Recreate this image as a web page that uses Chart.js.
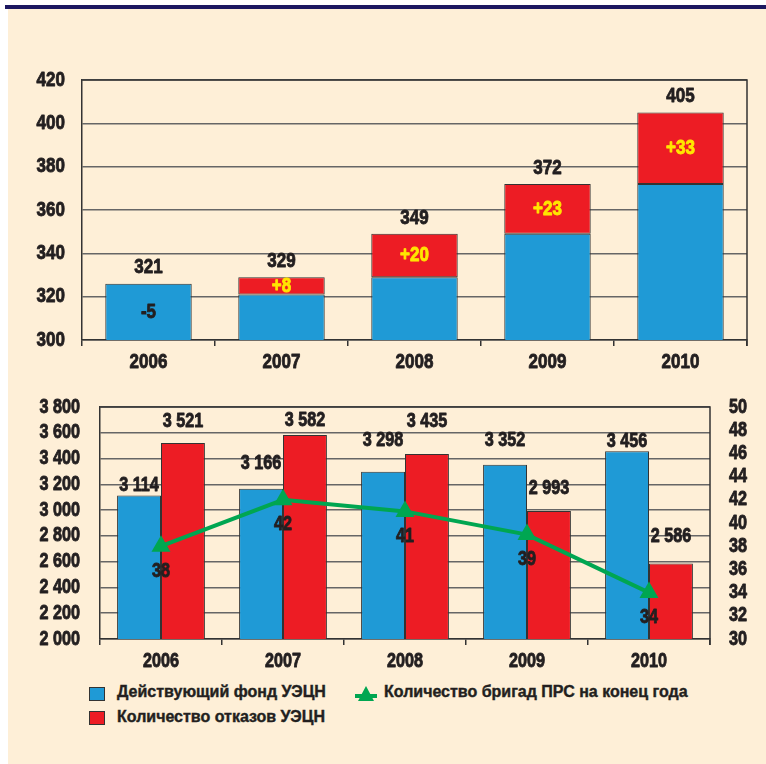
<!DOCTYPE html>
<html>
<head>
<meta charset="utf-8">
<script src="https://cdn.jsdelivr.net/npm/chart.js@4"></script>
<style>
  html, body { margin: 0; padding: 0; background: #fff; }
  #page { position: relative; width: 766px; height: 764px; overflow: hidden; background: #fff; }
  #bar { position: absolute; left: 5px; top: 5px; right: 0; height: 4px; background: #1c1760; }
  #panel { position: absolute; left: 8px; top: 9px; right: 0; bottom: 0; background: #feefd7; }
  .box { position: absolute; left: 0; width: 766px; }
  .sw { position: absolute; width: 14px; height: 12px; border: 1px solid #333; }
  .txt { position: absolute; white-space: nowrap; line-height: 20px; font: bold 16px 'Liberation Sans', Arial, sans-serif; color: #231f20; -webkit-text-stroke: 0.4px #231f20; }
</style>
</head>
<body>
<div id="page">
  <div id="bar"></div>
  <div id="panel"></div>
  <div class="box" style="top:60px;height:320px"><canvas id="topChart" width="766" height="320"></canvas></div>
  <div class="box" style="top:380px;height:300px"><canvas id="bottomChart" width="766" height="300"></canvas></div>
  <span class="sw" style="left:89px;top:687px;background:#1f9ad6"></span>
  <span class="txt" id="lg0" style="left:117px;top:683px"></span>
  <span class="sw" style="left:89px;top:711px;background:#ed1c24"></span>
  <span class="txt" id="lg1" style="left:117px;top:708px"></span>
  <canvas id="lineKey" width="22" height="16" style="position:absolute;left:355px;top:686px"></canvas>
  <span class="txt" id="lg2" style="left:384px;top:683px"></span>
</div>
<script>
// ===== DATA =====
const years = ["2006", "2007", "2008", "2009", "2010"];

// top chart: stock carried from previous year + yearly change
const carried   = [326, 321, 329, 349, 372];
const increase  = [null, 8, 20, 23, 33];
const totals    = [321, 329, 349, 372, 405];
const changes   = ["-5", "+8", "+20", "+23", "+33"];

// bottom chart
const fund      = [3114, 3166, 3298, 3352, 3456];
const failures  = [3521, 3582, 3435, 2993, 2586];
const crews     = [38, 42, 41, 39, 34];

const seriesNames = ["Действующий фонд УЭЦН", "Количество отказов УЭЦН", "Количество бригад ПРС на конец года"];

// ===== STYLE =====
const FONT = "'Liberation Sans', Arial, sans-serif";
const SQUEEZE = 0.81;           // narrow the face to look like the condensed original
const INK = "#231f20";
const BLUE = "#1f9ad6";
const RED = "#ed1c24";
const GREEN = "#00a651";
const GRID = "#666";

// label lifts above bars (as placed in the original layout)
const fundLift = [10, 25, 31, 24, 10];
const failLift = [21, 15, 33, 23, 27];

const fmt = v => String(v).replace(/\B(?=(\d{3})+(?!\d))/g, " ");

function narrowText(ctx, text, x, y, align, size, color) {
  ctx.save();
  ctx.font = "bold " + size + "px " + FONT;
  ctx.fillStyle = color || INK;
  ctx.strokeStyle = color || INK;
  ctx.lineWidth = 0.9;
  ctx.lineJoin = "round";
  ctx.textBaseline = "middle";
  ctx.textAlign = "left";
  const w = ctx.measureText(text).width * SQUEEZE;
  const left = align === "center" ? x - w / 2 : align === "right" ? x - w : x;
  ctx.translate(left, y);
  ctx.scale(SQUEEZE, 1);
  ctx.fillText(text, 0, 0);
  ctx.strokeText(text, 0, 0);
  ctx.restore();
}

// frame on top and right of the plot
const frame = {
  id: "frame",
  beforeDatasetsDraw(chart) {
    const { ctx, chartArea: a } = chart;
    ctx.save();
    ctx.strokeStyle = "#333";
    ctx.lineWidth = 1.5;
    ctx.beginPath();
    ctx.moveTo(a.left, a.top);
    ctx.lineTo(a.right, a.top);
    ctx.lineTo(a.right, a.bottom + 6);
    ctx.stroke();
    ctx.restore();
  }
};

// tick labels in the narrow face, placed by the library's scales
const tickText = {
  id: "tickText",
  afterDraw(chart, args, opts) {
    const ctx = chart.ctx;
    Object.values(chart.scales).forEach(s => {
      const gap = s.options.ticks.padding;
      s.ticks.forEach((t, i) => {
        const px = s.getPixelForTick(i);
        if (s.isHorizontal()) {
          narrowText(ctx, s.getLabelForValue(t.value), px, s.top + gap, "center", opts.size);
        } else if (s.position === "left") {
          narrowText(ctx, fmt(t.value), s.right - gap, px, "right", opts.size);
        } else {
          narrowText(ctx, fmt(t.value), s.left + gap, px, "left", opts.size);
        }
      });
    });
  }
};

// ===== TOP CHART =====
const topLabels = {
  id: "topLabels",
  afterDatasetsDraw(chart) {
    const ctx = chart.ctx;
    const floor = chart.chartArea.bottom;
    const b = chart.getDatasetMeta(0).data;
    const r = chart.getDatasetMeta(1).data;
    years.forEach((y, i) => {
      const hasInc = increase[i] != null;
      const topY = hasInc ? r[i].y : b[i].y;
      narrowText(ctx, String(totals[i]), b[i].x, topY - 16, "center", 21);
      if (hasInc) {
        narrowText(ctx, changes[i], r[i].x, (r[i].y + r[i].base) / 2, "center", 21, "#ffe600");
      } else {
        narrowText(ctx, changes[i], b[i].x, (b[i].y + Math.min(b[i].base, floor)) / 2, "center", 21);
      }
    });
  }
};

new Chart(document.getElementById("topChart"), {
  type: "bar",
  data: {
    labels: years,
    datasets: [
      { data: carried, backgroundColor: BLUE, borderColor: "#333", borderWidth: 1, borderSkipped: false },
      { data: increase, backgroundColor: RED, borderColor: "#333", borderWidth: 1, borderSkipped: false }
    ]
  },
  options: {
    responsive: false,
    devicePixelRatio: 1,
    animation: false,
    layout: { padding: { left: 0, right: 19, top: 20, bottom: 0 } },
    plugins: { legend: { display: false }, tooltip: { enabled: false }, tickText: { size: 21 } },
    datasets: { bar: { categoryPercentage: 1, barPercentage: 0.65 } },
    scales: {
      x: {
        stacked: true,
        afterFit: s => { s.height = 40; },
        grid: { drawOnChartArea: false, drawTicks: true, tickLength: 6, color: "#333", lineWidth: 1.5 },
        border: { color: "#333", width: 1.5 },
        ticks: { display: false, padding: 22 }
      },
      y: {
        stacked: true,
        min: 300, max: 420,
        afterFit: s => { s.width = 82; },
        grid: { color: GRID, lineWidth: 1.5, drawTicks: false },
        border: { color: "#333", width: 1.5 },
        ticks: { display: false, stepSize: 20, padding: 17 }
      }
    }
  },
  plugins: [frame, topLabels, tickText]
});

// ===== BOTTOM CHART =====
const bottomLabels = {
  id: "bottomLabels",
  afterDatasetsDraw(chart) {
    const ctx = chart.ctx;
    const f = chart.getDatasetMeta(0).data;
    const k = chart.getDatasetMeta(1).data;
    const c = chart.getDatasetMeta(2).data;
    years.forEach((y, i) => {
      narrowText(ctx, fmt(fund[i]), f[i].x, f[i].y - fundLift[i], "center", 20);
      narrowText(ctx, fmt(failures[i]), k[i].x, k[i].y - failLift[i], "center", 20);
      narrowText(ctx, String(crews[i]), c[i].x, c[i].y + 25, "center", 20);
    });
  }
};

new Chart(document.getElementById("bottomChart"), {
  type: "bar",
  data: {
    labels: years,
    datasets: [
      { label: seriesNames[0], data: fund, backgroundColor: BLUE, borderColor: "#333", borderWidth: 1, borderSkipped: false, yAxisID: "y", order: 1 },
      { label: seriesNames[1], data: failures, backgroundColor: RED, borderColor: "#333", borderWidth: 1, borderSkipped: false, yAxisID: "y", order: 1 },
      { label: seriesNames[2], type: "line", data: crews, yAxisID: "y1", order: 0,
        borderColor: GREEN, borderWidth: 4, backgroundColor: GREEN,
        pointStyle: "triangle", pointRadius: 11, pointBorderWidth: 0, tension: 0 }
    ]
  },
  options: {
    responsive: false,
    devicePixelRatio: 1,
    animation: false,
    layout: { padding: { left: 0, right: 0, top: 27, bottom: 0 } },
    plugins: { legend: { display: false }, tooltip: { enabled: false }, tickText: { size: 20 } },
    datasets: { bar: { categoryPercentage: 0.72, barPercentage: 1 } },
    scales: {
      x: {
        afterFit: s => { s.height = 41; },
        grid: { drawOnChartArea: false, drawTicks: true, tickLength: 6, color: "#333", lineWidth: 1.5 },
        border: { color: "#333", width: 1.5 },
        ticks: { display: false, padding: 22 }
      },
      y: {
        position: "left",
        min: 2000, max: 3800,
        afterFit: s => { s.width = 100; },
        grid: { color: GRID, lineWidth: 1.5, drawTicks: false },
        border: { color: "#333", width: 1.5 },
        ticks: { display: false, stepSize: 200, padding: 20 }
      },
      y1: {
        position: "right",
        min: 30, max: 50,
        afterFit: s => { s.width = 56; },
        grid: { drawOnChartArea: false, drawTicks: false },
        border: { display: false },
        ticks: { display: false, stepSize: 2, padding: 19 }
      }
    }
  },
  plugins: [frame, bottomLabels, tickText]
});

// ===== LEGEND =====
seriesNames.forEach((n, i) => { document.getElementById("lg" + i).textContent = n; });
(() => {
  const ctx = document.getElementById("lineKey").getContext("2d");
  ctx.strokeStyle = GREEN; ctx.lineWidth = 4;
  ctx.beginPath(); ctx.moveTo(0, 10); ctx.lineTo(22, 10); ctx.stroke();
  ctx.fillStyle = GREEN;
  ctx.beginPath(); ctx.moveTo(11, 0); ctx.lineTo(19, 15); ctx.lineTo(3, 15); ctx.closePath(); ctx.fill();
})();
</script>
</body>
</html>
